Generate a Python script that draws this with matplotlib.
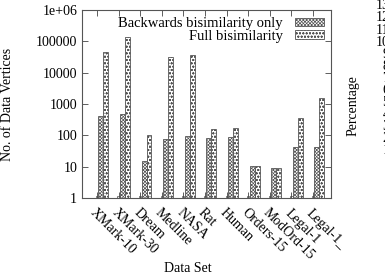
import matplotlib
matplotlib.use("Agg")
import matplotlib.pyplot as plt
import numpy as np

# Daten
datasets = ["XMark-10", "XMark-30", "Dream", "Medline", "NASA", "Rat", "Human",
            "Orders-15", "ModOrd-15", "Legal-1", "Legal-1_"]
stub = [1.2] * 11
backward = [420, 470, 15, 78, 92, 80, 88, 10.5, 9.3, 42, 42]
full = [47000, 135000, 105, 32000, 36000, 165, 175, 10.5, 9.3, 350, 1550]
pct_ticks = list(range(0, 140, 10))

plt.rcParams['font.family'] = ['Liberation Serif', 'DejaVu Serif']
plt.rcParams['font.size'] = 10
plt.rcParams['hatch.linewidth'] = 0.5
plt.rcParams['hatch.color'] = '#555555'

fig = plt.figure(figsize=(3.85, 2.78), dpi=100)
ax = fig.add_axes([82/385, 1 - 198/278, (331 - 82)/385, (198 - 10)/278])

x = np.arange(len(datasets))
w = 0.23
ax.bar(x, stub, 0.1, bottom=0, color='white', edgecolor='#555555',
       linewidth=0.5, hatch='\\\\\\\\\\\\\\\\\\\\')
ax.bar(x + 0.18, backward, w, color='white', edgecolor='#555555', linewidth=0.6,
       hatch='xxxxxxxxxx', label='Backwards bisimilarity only')
ax.bar(x + 0.41, full, w, color='white', edgecolor='#555555', linewidth=0.6,
       hatch='ooooo', label='Full bisimilarity')

ax.set_yscale('log')
ax.set_ylim(1, 1e6)
ax.set_xlim(-0.69, 10.83)
ax.set_yticks([1, 10, 100, 1000, 10000, 100000, 1000000])
ax.set_yticklabels(['1', '10', '100', '1000', '10000', '100000', '1e+06'])
ax.minorticks_off()
ax.set_xticks(x)
ax.set_xticklabels(datasets, rotation=-45, ha='left', va='top', rotation_mode='anchor')
ax.tick_params(direction='in', length=4, width=0.6, top=True, right=True,
               colors='#444444', labelcolor='black')
ax.tick_params(axis='x', pad=6)
for s in ax.spines.values():
    s.set_color('#555555')
    s.set_linewidth(0.8)

leg = ax.legend(loc='upper right', frameon=False, markerfirst=False,
                handlelength=2.0, handleheight=0.5, labelspacing=-0.05,
                borderaxespad=0.1, handletextpad=0.8, fontsize=10.5)

fig.text(8/385, 1 - 104/278, 'No. of Data Vertices', rotation=90,
         ha='center', va='center', fontsize=10)
fig.text(188/385, 1 - 268/278, 'Data Set', ha='center', va='center', fontsize=10)

# rechtes, abgeschnittenes Diagramm
ax2 = fig.add_axes([401/385, 1 - 198/278, 0.3, (198 + 10)/278])
ax2.set_ylim(-30.8, 142)
ax2.set_yticks(pct_ticks)
ax2.set_xticks([])
ax2.tick_params(direction='in', length=4, width=0.6)
fig.text(353/385, 1 - 106/278, 'Percentage', rotation=90,
         ha='center', va='center', fontsize=10)

fig.savefig('out.png', dpi=100)
